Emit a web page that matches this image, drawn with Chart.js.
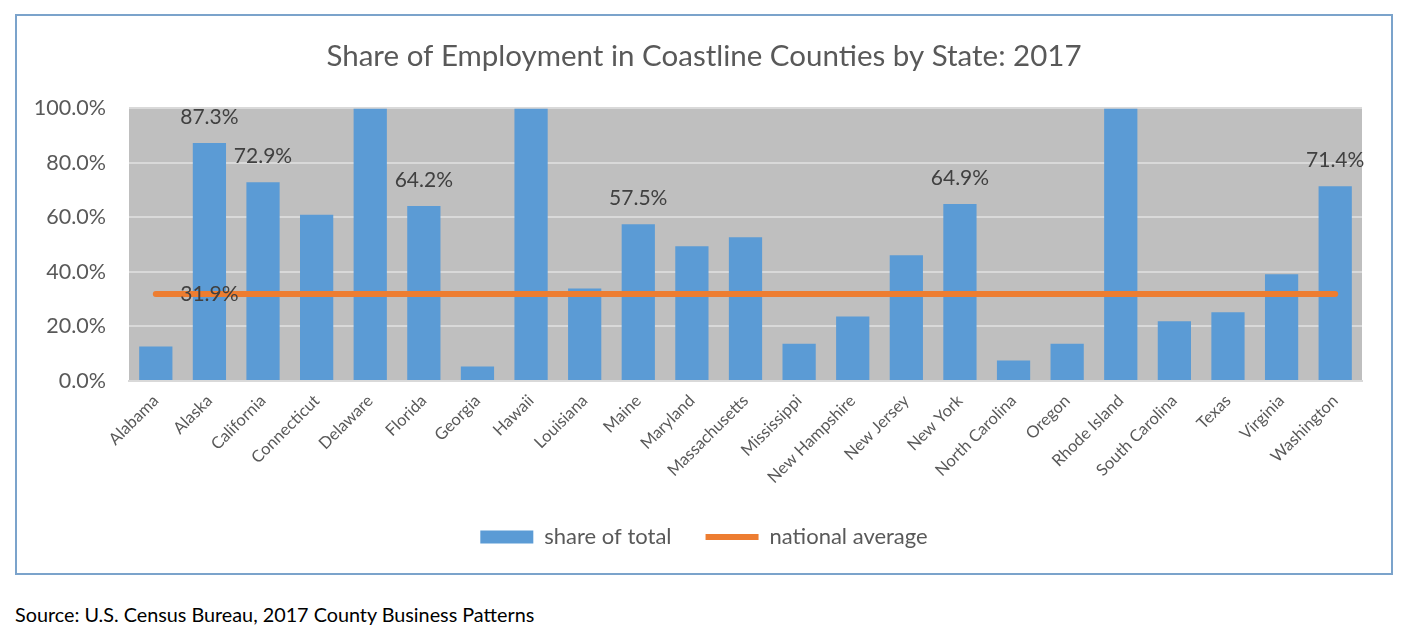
<!DOCTYPE html>
<html>
<head>
<meta charset="utf-8">
<script src="https://cdn.jsdelivr.net/npm/chart.js@4.4.1/dist/chart.umd.min.js"></script>
<style>
  body { margin: 0; background: #fff; width: 1406px; height: 638px; position: relative; overflow: hidden; }
  #frame { position: absolute; left: 15px; top: 14px; width: 1374px; height: 557px; border: 2px solid #7ba3cb; }
  #source { position: absolute; left: 15px; top: 602px; font-family: Lato, sans-serif; font-size: 19.8px; color: #000; }
</style>
</head>
<body>
<div id="frame"><canvas id="coast-chart" width="1374" height="557"></canvas></div>
<div id="source">Source: U.S. Census Bureau, 2017 County Business Patterns</div>
<script>
// Share of employment in coastline counties
var states = ['Alabama', 'Alaska', 'California', 'Connecticut', 'Delaware', 'Florida', 'Georgia', 'Hawaii',
    'Louisiana', 'Maine', 'Maryland', 'Massachusetts', 'Mississippi', 'New Hampshire', 'New Jersey', 'New York',
    'North Carolina', 'Oregon', 'Rhode Island', 'South Carolina', 'Texas', 'Virginia', 'Washington'];
var shareOfTotal = [12.7, 87.3, 72.9, 61.0, 100, 64.2, 5.3, 100, 33.9, 57.5, 49.4, 52.7, 13.7, 23.7, 46.1, 64.9,
    7.5, 13.7, 100, 21.9, 25.2, 39.2, 71.4];
var nationalAverage = [31.9, 31.9, 31.9, 31.9, 31.9, 31.9, 31.9, 31.9, 31.9, 31.9, 31.9, 31.9, 31.9, 31.9, 31.9,
    31.9, 31.9, 31.9, 31.9, 31.9, 31.9, 31.9, 31.9];
var labeledStates = ['Alaska', 'California', 'Florida', 'Maine', 'New York', 'Washington'];
var averageLabelState = 'Alaska';
var yTicks = [0, 20, 40, 60, 80, 100];

var FONT = 'Lato, "Open Sans", sans-serif';

var plotBackground = {
    id: 'plotBackground',
    beforeDraw: function (chart) {
        var a = chart.chartArea, c = chart.ctx;
        c.save();
        c.fillStyle = '#bfbfbf';
        c.fillRect(a.left, a.top, a.right - a.left, a.bottom - a.top);
        c.restore();
    }
};

var valueLabels = {
    id: 'valueLabels',
    afterDatasetsDraw: function (chart) {
        var c = chart.ctx;
        var bars = chart.getDatasetMeta(0).data;
        var line = chart.getDatasetMeta(1).data;
        c.save();
        c.font = '21px ' + FONT;
        c.fillStyle = '#404040';
        c.textAlign = 'center';
        c.textBaseline = 'middle';
        labeledStates.forEach(function (s) {
            var i = states.indexOf(s);
            c.fillText(shareOfTotal[i].toFixed(1) + '%', bars[i].x, bars[i].y - 26);
        });
        var j = states.indexOf(averageLabelState);
        c.fillText(nationalAverage[j].toFixed(1) + '%', line[j].x, line[j].y);
        c.restore();
    }
};

var ctx = document.getElementById('coast-chart');
new Chart(ctx, {
    type: 'bar',
    data: {
        labels: states,
        datasets: [{
            label: 'share of total',
            data: shareOfTotal,
            backgroundColor: '#5b9bd5',
            borderWidth: 0,
            barPercentage: 0.62,
            categoryPercentage: 1,
            pointStyle: 'rect',
            order: 2
        }, {
            type: 'line',
            label: 'national average',
            data: nationalAverage,
            borderColor: '#ed7d31',
            backgroundColor: '#ed7d31',
            borderWidth: 6,
            borderCapStyle: 'round',
            pointRadius: 0,
            pointHoverRadius: 0,
            pointStyle: 'line',
            order: 1
        }]
    },
    options: {
        responsive: false,
        animation: false,
        layout: { padding: { left: 0, right: 0, top: 0, bottom: 15 } },
        plugins: {
            title: {
                display: true,
                text: 'Share of Employment in Coastline Counties by State: 2017',
                color: '#595959',
                font: { family: FONT, size: 29.5, weight: 'normal', lineHeight: 1.2 },
                padding: { top: 23, bottom: 34 }
            },
            legend: {
                position: 'bottom',
                labels: {
                    usePointStyle: true,
                    pointStyleWidth: 53,
                    boxHeight: 13,
                    color: '#595959',
                    font: { family: FONT, size: 22 },
                    padding: 34,
                    sort: function (a, b) { return a.datasetIndex - b.datasetIndex; }
                }
            },
            tooltip: { enabled: false }
        },
        scales: {
            x: {
                grid: { display: false },
                border: { color: '#d9d9d9', width: 2 },
                ticks: {
                    color: '#595959',
                    font: { family: FONT, size: 16.5 },
                    minRotation: 45,
                    maxRotation: 45,
                    padding: 2
                },
                afterFit: function (scale) { scale.height = 111; }
            },
            y: {
                min: 0,
                max: 100,
                afterBuildTicks: function (scale) {
                    scale.ticks = yTicks.map(function (v) { return { value: v }; });
                },
                grid: { color: '#d9d9d9', lineWidth: 2, drawTicks: false },
                border: { display: false },
                ticks: {
                    color: '#595959',
                    font: { family: FONT, size: 21.5 },
                    padding: 23,
                    callback: function (v) { return v.toFixed(1) + '%'; }
                },
                afterFit: function (scale) { scale.width = 112; }
            },
            // empty right margin so the title stays centred on the frame
            spacer: {
                type: 'linear',
                position: 'right',
                grid: { display: false, drawTicks: false },
                border: { display: false },
                ticks: { display: false },
                afterFit: function (scale) { scale.width = 29; }
            }
        }
    },
    plugins: [plotBackground, valueLabels]
});
</script>
</body>
</html>
